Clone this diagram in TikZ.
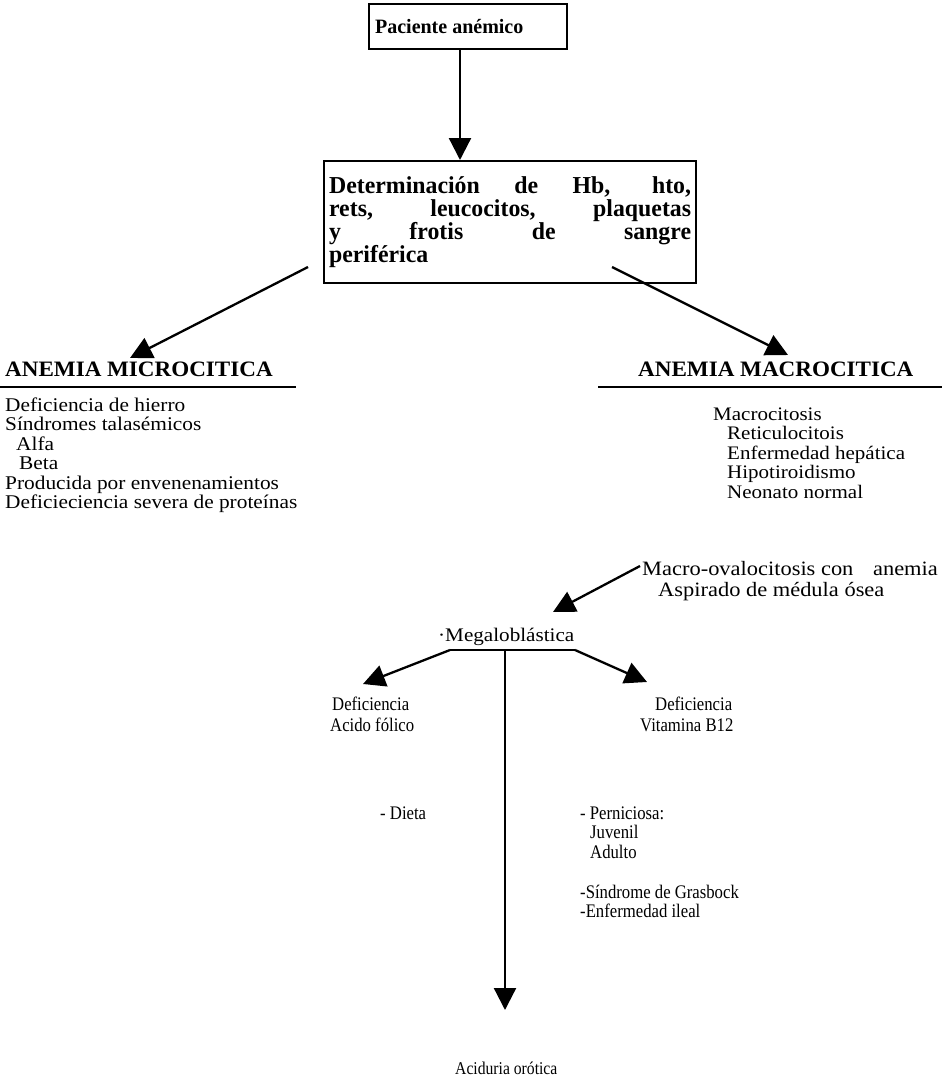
\documentclass[tikz,border=0pt]{standalone}
\usepackage{fontspec}
\setmainfont{Liberation Serif}
\newfontfamily\bodyf{Liberation Serif}[FakeStretch=0.98]
\newfontfamily\widef{Liberation Serif}[FakeStretch=1.1]
\newfontfamily\narrowf{Liberation Serif}[FakeStretch=0.87]
\newfontfamily\headf{Liberation Serif}[FakeStretch=1.05]
\usetikzlibrary{arrows.meta}
\tikzset{
  txt/.style={font=\widef\fontsize{#1}{#1}\selectfont, inner sep=0pt, anchor=base west},
  txt/.default=19.4,
  txts/.style={font=\narrowf\fontsize{#1}{#1}\selectfont, inner sep=0pt, anchor=base west},
  txts/.default=19.2,
  hd/.style={font=\headf\bfseries\fontsize{22}{26}\selectfont, inner sep=0pt, anchor=base west},
  boxed/.style={draw, line width=2.2pt, inner sep=0pt, anchor=north west},
  arr/.style={line width=2.3pt, -{Triangle[length=22pt,width=22pt]}},
  link/.style={line width=2.3pt},
  rule/.style={line width=1.8pt},
}
\begin{document}
\begin{tikzpicture}[x=1pt,y=-1pt]
\useasboundingbox (0,0) rectangle (942,1081);

% top boxes
\node[boxed, minimum width=198pt, minimum height=45pt,
      font=\bodyf\bfseries\fontsize{20.4}{22}\selectfont] (box1) at (368,3)
  {\makebox[186pt][l]{Paciente anémico}};
\node[boxed, minimum width=372pt, minimum height=122pt, align=left,
      font=\bodyf\bfseries\fontsize{24.3}{23.3}\selectfont] (box2) at (323,160)
  {\makebox[362pt][s]{Determinación de Hb, hto,}\\
   \makebox[362pt][s]{rets, leucocitos, plaquetas}\\
   \makebox[362pt][s]{y frotis de sangre}\\
   \makebox[362pt][l]{periférica}};

% connector geometry
\coordinate (a1) at (460,0);
\coordinate (dl) at (308,267);
\coordinate (mic-in) at (130,358);
\coordinate (dr) at (612,267);
\coordinate (mac-in) at (788,355);
\coordinate (ov-out) at (640,566);
\coordinate (meg-in) at (553,612);
\coordinate (bar-l) at (450,650);
\coordinate (bar-m) at (505,650);
\coordinate (bar-r) at (575,650);
\coordinate (fol-in) at (363,684);
\coordinate (b12-in) at (647,682);
\coordinate (oro-in) at (505,1010);

\draw[arr] (box1.south -| a1) -- (box2.north -| a1);
\draw[arr] (dl) -- (mic-in);
\draw[arr] (dr) -- (mac-in);

% microcytic column
\node[hd] (hmic) at (5,376) {ANEMIA MICROCITICA};
\draw[rule] (0,387) -- (296,387);
\node[txt] (m1) at (5,411) {Deficiencia de hierro};
\node[txt] (m2) at (5,430.5) {Síndromes talasémicos};
\node[txt] (m3) at (16,450) {Alfa};
\node[txt] (m4) at (19,469.5) {Beta};
\node[txt] (m5) at (5,489) {Producida por envenenamientos};
\node[txt] (m6) at (5,508.5) {Deficieciencia severa de proteínas};

% macrocytic column
\node[hd] (hmac) at (638,376) {ANEMIA MACROCITICA};
\draw[rule] (598,387) -- (942,387);
\node[txt=19.1] (c1) at (713,420) {Macrocitosis};
\node[txt=19.1] (c2) at (727,439.5) {Reticulocitois};
\node[txt=19.1] (c3) at (727,459) {Enfermedad hepática};
\node[txt=19.1] (c4) at (727,478.5) {Hipotiroidismo};
\node[txt=19.1] (c5) at (727,498) {Neonato normal};
\node[txt=20.4] (ov1) at (642,575) {Macro-ovalocitosis con\hspace{14pt} anemia};
\node[txt=20.4] (ov2) at (658,596) {Aspirado de médula ósea};
\draw[arr] (ov-out) -- (meg-in);

% megaloblastic branch
\node[txt=19.2] (meg) at (438,641) {·Megaloblástica};
\draw[link] (bar-l) -- (bar-r);
\draw[arr] (bar-l) -- (fol-in);
\draw[arr] (bar-r) -- (b12-in);
\draw[arr] (bar-m) -- (oro-in);

\node[txts] (f1) at (332,710) {Deficiencia};
\node[txts] (f2) at (330,731) {Acido fólico};
\node[txts] (v1) at (655,710) {Deficiencia};
\node[txts] (v2) at (640,731) {Vitamina B12};

\node[txts] (d1) at (380,819) {- Dieta};
\node[txts] (p1) at (580,819) {- Perniciosa:};
\node[txts] (p2) at (590,838) {Juvenil};
\node[txts] (p3) at (590,858) {Adulto};
\node[txts] (p4) at (580,898) {-Síndrome de Grasbock};
\node[txts] (p5) at (580,917) {-Enfermedad ileal};

\node[txts=18] (oro) at (455,1074) {Aciduria orótica};
\end{tikzpicture}
\end{document}
